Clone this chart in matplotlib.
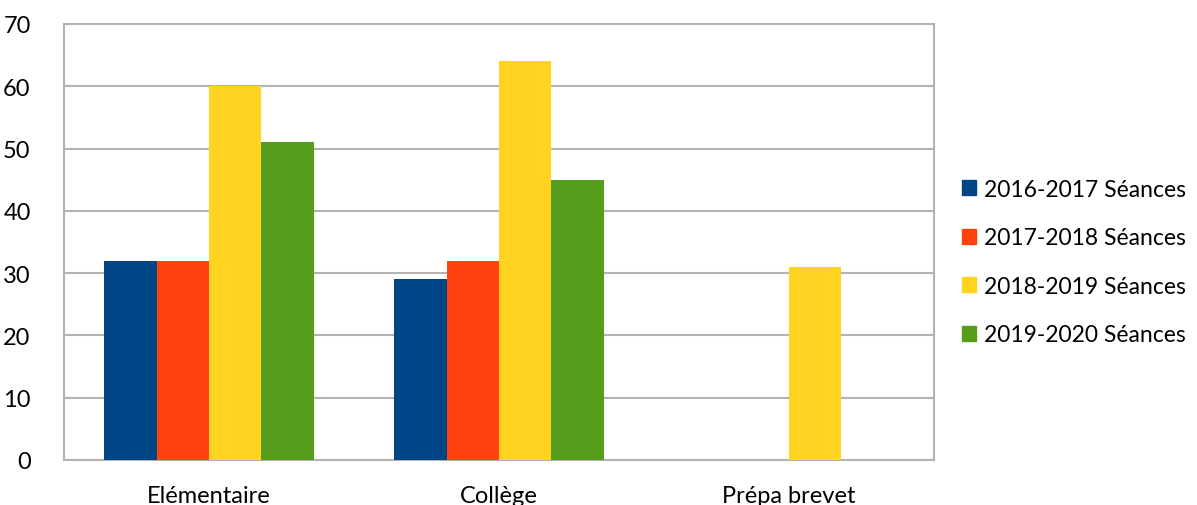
import matplotlib
matplotlib.use('Agg')
import matplotlib.pyplot as plt
import numpy as np
from matplotlib.patches import Patch

plt.rcParams['font.family'] = ['Lato', 'DejaVu Sans']

categories = ['Elémentaire', 'Collège', 'Prépa brevet']
series_names = ['2016-2017 Séances', '2017-2018 Séances', '2018-2019 Séances', '2019-2020 Séances']
s2016 = [32, 29, 0]
s2017 = [32, 32, 0]
s2018 = [60, 64, 31]
s2019 = [51, 45, 0]
colors = ['#004586', '#ff420e', '#ffd320', '#579d1c']

fig = plt.figure(figsize=(11.97, 5.06), dpi=100)
ax = fig.add_axes([64/1197, 45/506, 870/1197, 436/506])

x = np.arange(len(categories))
w = 0.181
for i, (vals, c) in enumerate(zip([s2016, s2017, s2018, s2019], colors)):
    ax.bar(x + (i - 1.5) * w, vals, width=w, color=c, zorder=3)

ax.set_xlim(-0.5, 2.5)
ax.set_ylim(0, 70)
ax.set_yticks(range(0, 71, 10))
ax.yaxis.grid(True, color='#b3b3b3', linewidth=1.5, zorder=0)
for s in ax.spines.values():
    s.set_color('#b3b3b3')
    s.set_linewidth(1.5)
ax.tick_params(axis='both', length=0, labelsize=17, colors='black')
ax.tick_params(axis='y', pad=24)
ax.tick_params(axis='x', pad=18)
ax.set_xticks(x)
ax.set_xticklabels(categories)

handles = [Patch(color=c) for c in colors]
fig.legend(handles, series_names, loc='center left', bbox_to_anchor=(941/1197, 1 - 263/506),
           frameon=False, fontsize=16.5, handlelength=0.62, handleheight=0.62,
           handletextpad=0.35, labelspacing=1.2)

fig.savefig('out.png', dpi=100)
